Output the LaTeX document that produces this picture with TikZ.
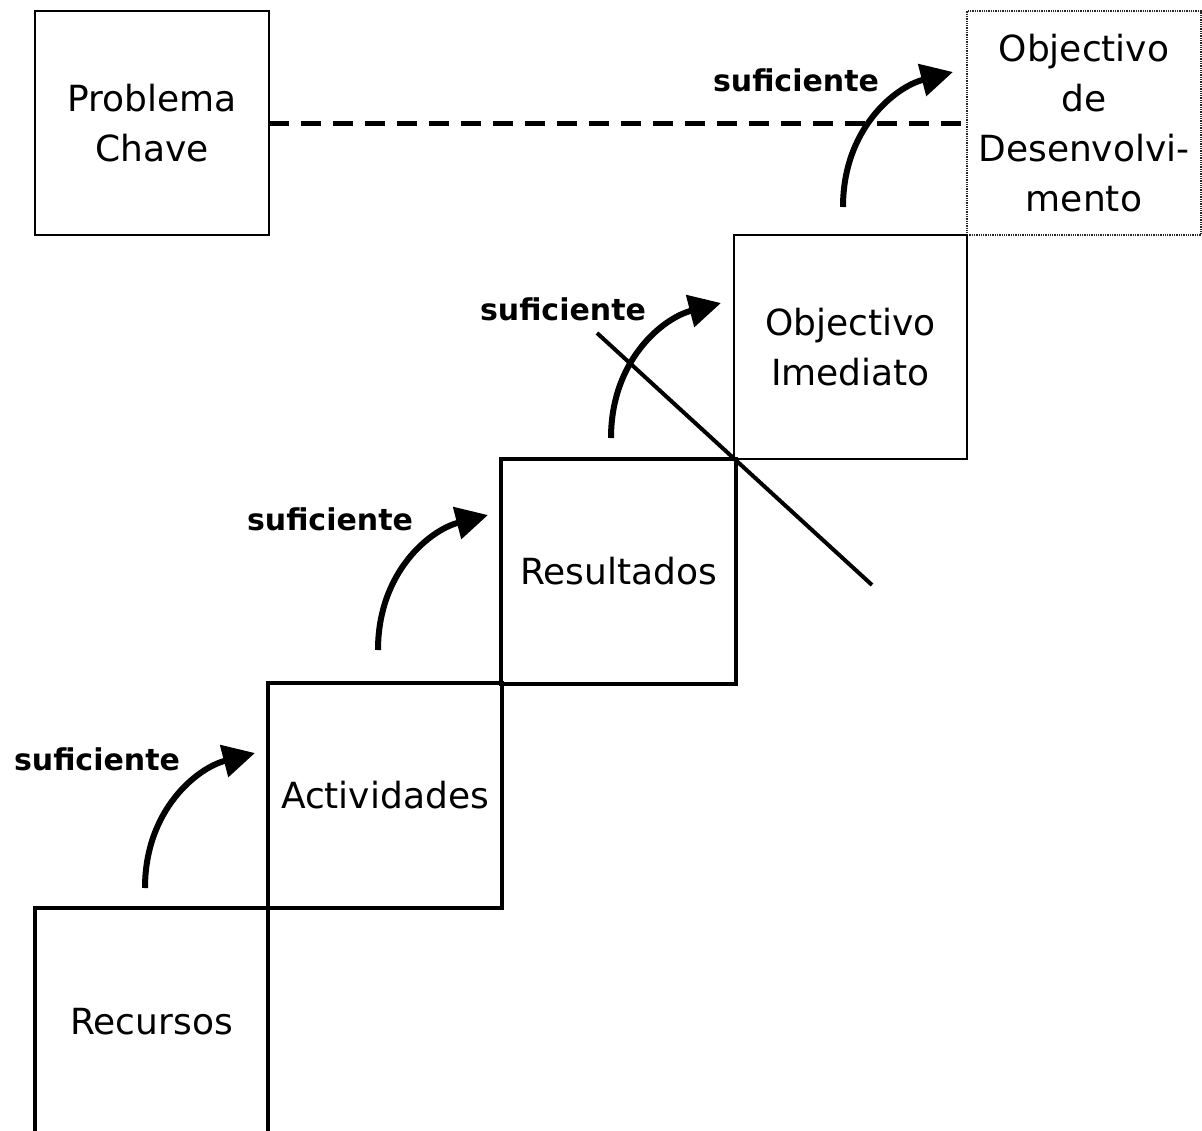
\documentclass[tikz,border=0pt]{standalone}
\usepackage{fontspec}
\setmainfont{DejaVu Sans}
\usetikzlibrary{arrows.meta}
\tikzset{
  boxtext/.style={font=\fontsize{36}{50}\selectfont, align=center},
  thinbox/.style={draw=black, line width=2.5pt, rectangle, inner sep=0pt, outer sep=0pt, boxtext},
  thickbox/.style={draw=black, line width=4.5pt, rectangle, inner sep=0pt, outer sep=0pt, boxtext},
  dotbox/.style={draw=black!85, line width=1.3pt, densely dotted, rectangle, inner sep=0pt, outer sep=0pt, boxtext},
  lbl/.style={font=\fontsize{30}{36}\selectfont\bfseries, anchor=base, inner sep=0pt},
  arr/.style={line width=6pt, -{Triangle[length=32pt,width=32pt]}},
  dashline/.style={line width=5pt, dash pattern=on 20pt off 12pt},
  diag/.style={line width=4pt}
}
\begin{document}
\begin{tikzpicture}[x=1pt,y=-1pt]
\useasboundingbox (0,0) rectangle (1202,1130);
\clip (0,0) rectangle (1202,1130);
\fill[white] (0,0) rectangle (1202,1130);
% boxes
\node[thinbox, minimum width=234pt, minimum height=224pt] (prob) at (152,123) {Problema\\Chave};
\node[dotbox, minimum width=234pt, minimum height=224pt] (odes) at (1084,123) {Objectivo\\de\\Desenvolvi-\\mento};
\node[thinbox, minimum width=233pt, minimum height=224pt] (oimed) at (850.5,347) {Objectivo\\Imediato};
\node[thickbox, minimum width=235pt, minimum height=225pt] (res) at (618.5,571.5) {Resultados};
\node[thickbox, minimum width=234pt, minimum height=225pt] (act) at (385,795.5) {Actividades};
\node[thickbox, minimum width=233pt, minimum height=228pt] (rec) at (151.5,1022) {Recursos};
% dashed link
\draw[dashline] (prob.east) -- (odes.west);
% diagonal line
\coordinate (d1) at (597,333);
\coordinate (d2) at (872,585);
\draw[diag] (d1) -- (d2);
% arrows
\coordinate (a1s) at (145,888); \coordinate (a1e) at (255,753);
\coordinate (a2s) at (378,650); \coordinate (a2e) at (488,515);
\coordinate (a3s) at (611,438); \coordinate (a3e) at (721,303);
\coordinate (a4s) at (843,207); \coordinate (a4e) at (953,72);
\draw[arr] (a1s) .. controls +(0,-78) and +(-58,15) .. (a1e);
\draw[arr] (a2s) .. controls +(0,-78) and +(-58,15) .. (a2e);
\draw[arr] (a3s) .. controls +(0,-78) and +(-58,15) .. (a3e);
\draw[arr] (a4s) .. controls +(0,-78) and +(-58,15) .. (a4e);
% labels
\node[lbl] (l1) at (97,770) {suficiente};
\node[lbl] (l2) at (330,530) {suficiente};
\node[lbl] (l3) at (563,320) {suficiente};
\node[lbl] (l4) at (796,91) {suficiente};
\end{tikzpicture}
\end{document}
